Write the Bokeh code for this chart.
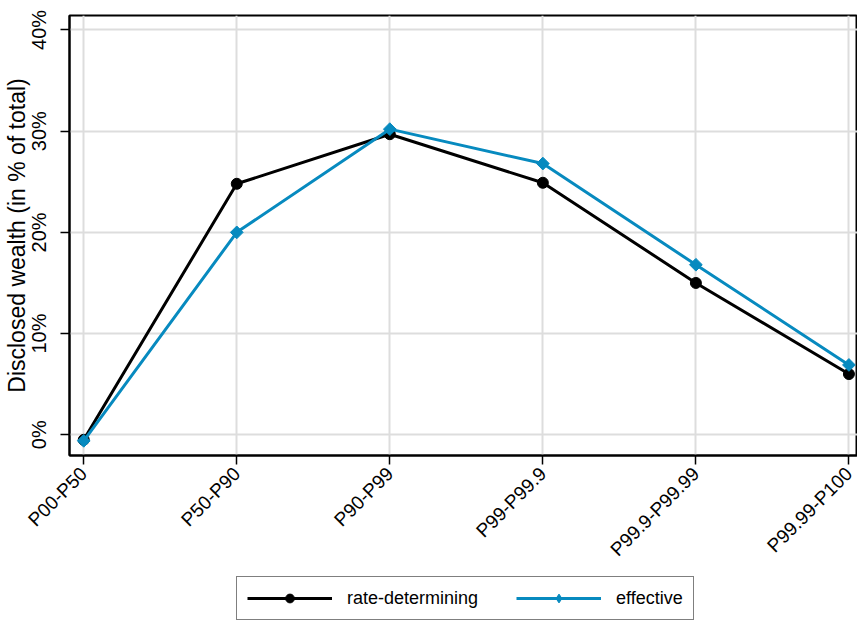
import numpy as np
from bokeh.plotting import figure
from bokeh.layouts import column
from bokeh.models import (Range1d, FixedTicker, PrintfTickFormatter, Legend, LegendItem)
from bokeh.embed import file_html
from bokeh.resources import INLINE

# ---- data ----
categories = ["P00-P50", "P50-P90", "P90-P99", "P99-P99.9", "P99.9-P99.99", "P99.99-P100"]
rate_determining = [-0.5, 24.8, 29.7, 24.9, 15.0, 6.0]
effective = [-0.6, 20.0, 30.2, 26.8, 16.8, 6.9]
y_ticks = [0, 10, 20, 30, 40]
series_names = ["rate-determining", "effective"]

FONT = "Liberation Sans"
BLUE = "#078abf"

x = list(range(len(categories)))

p = figure(width=857, height=575, output_backend="svg", toolbar_location=None,
           x_range=Range1d(-0.093, 5.056), y_range=Range1d(-2.05, 41.43),
           min_border_left=68, min_border_right=0, min_border_top=15, min_border_bottom=120)

p.background_fill_color = "white"
p.border_fill_color = "white"
p.outline_line_color = "black"
p.outline_line_width = 2

# grids
p.xgrid.ticker = FixedTicker(ticks=x)
p.ygrid.ticker = FixedTicker(ticks=y_ticks)
for g in (p.xgrid, p.ygrid):
    g.grid_line_color = "#dddddd"
    g.grid_line_width = 2

# x axis
xa = p.xaxis[0]
xa.ticker = FixedTicker(ticks=x)
xa.major_label_overrides = {i: c for i, c in enumerate(categories)}
xa.major_label_orientation = np.pi / 4
xa.major_label_text_font = FONT
xa.major_label_text_font_size = "19px"
xa.major_label_text_color = "black"
xa.major_label_standoff = 6

# y axis
ya = p.yaxis[0]
ya.ticker = FixedTicker(ticks=y_ticks)
ya.formatter = PrintfTickFormatter(format="%d%%")
ya.major_label_orientation = "vertical"
ya.major_label_text_font = FONT
ya.major_label_text_font_size = "20px"
ya.major_label_text_color = "black"
ya.major_label_standoff = 10
ya.axis_label = "Disclosed wealth (in % of total)"
ya.axis_label_text_font = FONT
ya.axis_label_text_font_size = "23px"
ya.axis_label_text_font_style = "normal"
ya.axis_label_text_color = "black"
ya.axis_label_standoff = -4

for ax in (xa, ya):
    ax.axis_line_color = "black"
    ax.axis_line_width = 2
    ax.major_tick_line_color = "black"
    ax.major_tick_line_width = 1.5
    ax.major_tick_out = 9
    ax.major_tick_in = 0
    ax.minor_tick_line_color = None

# series
p.line(x, rate_determining, line_color="black", line_width=3)
p.scatter(x, rate_determining, marker="circle", size=11, fill_color="black", line_color="black")
p.line(x, effective, line_color=BLUE, line_width=3)
p.scatter(x, effective, marker="square", angle=np.pi / 4, size=9,
          fill_color=BLUE, line_color=BLUE)

# ---- legend strip (separate figure below the chart) ----
lg = figure(width=857, height=48, output_backend="svg", toolbar_location=None,
            x_range=Range1d(0, 1), y_range=Range1d(0, 1),
            min_border_left=0, min_border_right=0, min_border_top=0, min_border_bottom=0)
lg.axis.visible = False
lg.grid.visible = False
lg.outline_line_color = None
lg.border_fill_color = "white"

# key renderers, placed outside the visible range so only their legend glyphs show
off = [-10, -9]
dl1 = lg.line(off, off, line_color="black", line_width=3)
ds1 = lg.scatter(off, off, marker="circle", size=11, fill_color="black", line_color="black")
dl2 = lg.line(off, off, line_color=BLUE, line_width=3)
ds2 = lg.scatter(off, off, marker="diamond", size=16, fill_color=BLUE, line_color=BLUE)

legend = Legend(items=[LegendItem(label=series_names[0], renderers=[dl1, ds1]),
                       LegendItem(label=series_names[1], renderers=[dl2, ds2])],
                location=(167, 3), orientation="horizontal")
legend.label_text_font = FONT
legend.label_text_font_size = "18px"
legend.label_text_color = "black"
legend.glyph_width = 85
legend.glyph_height = 22
legend.label_height = 22
legend.label_standoff = 15
legend.spacing = 38
legend.padding = 10
legend.margin = 0
legend.border_line_color = "black"
legend.border_line_width = 1.5
legend.background_fill_alpha = 1
lg.add_layout(legend, "center")

layout = column(p, lg, spacing=0)
open("out.html", "w").write(file_html(layout, INLINE))
